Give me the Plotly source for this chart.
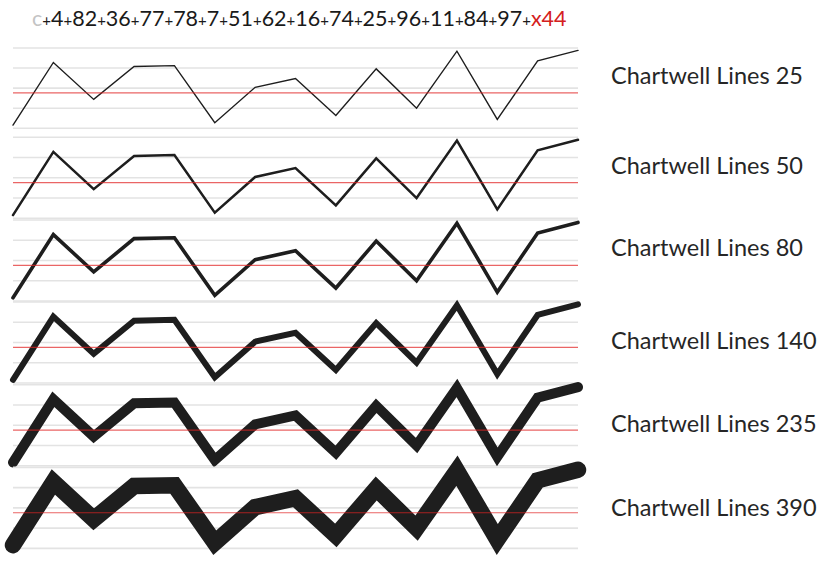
import plotly.graph_objects as go

# values typed into the Chartwell Lines specimen
VALUES   = [4, 82, 36, 77, 78, 7, 51, 62, 16, 74, 25, 96, 11, 84, 97]
BASELINE = 44
WEIGHTS  = [25, 50, 80, 140, 235, 390]
LABELS   = [f"Chartwell Lines {w}" for w in WEIGHTS]
GRID     = [0, 25, 50, 75, 100]

W, H = 825, 561
# pixel rows where 0 and 100 fall in each specimen
PANEL_PX = [(128.3, 48.0), (218.3, 137.3), (301.0, 220.0),
            (383.0, 302.0), (465.7, 384.7), (548.4, 467.4)]
LABEL_PX = [75, 165, 247, 340, 423, 507]
LINE_W   = [1.4, 2.5, 3.6, 6.0, 10.0, 16.5]
X0_PX, X1_PX = 13, 578
INK = "#1e1e1e"
FONT = "Lato, Roboto, sans-serif"

fig = go.Figure()
n = len(VALUES)
xs = list(range(n))
dx = (X1_PX - X0_PX) / (n - 1)
xr = [(0 - X0_PX) / dx, (660 - X0_PX) / dx]

layout = dict(width=W, height=H, margin=dict(l=0, r=0, t=0, b=0),
              paper_bgcolor="white", plot_bgcolor="rgba(0,0,0,0)", showlegend=False)
shapes, annots = [], []

for i, (w, (y0, y100)) in enumerate(zip(WEIGHTS, PANEL_PX)):
    k = "" if i == 0 else str(i + 1)
    s = (y0 - y100) / 100
    lo_px, hi_px = min(H, y0 + 22 * s), max(0, y100 - 22 * s)
    layout[f"xaxis{k}"] = dict(domain=[0, 660 / W], range=xr, visible=False)
    layout[f"yaxis{k}"] = dict(domain=[1 - lo_px / H, 1 - hi_px / H],
                               range=[(y0 - lo_px) / s, (y0 - hi_px) / s],
                               visible=False, anchor=f"x{k}")
    for g in GRID:
        shapes.append(dict(type="line", xref=f"x{k}", yref=f"y{k}", x0=0, x1=n - 1,
                           y0=g, y1=g, layer="below", line=dict(color="#e3e3e3", width=1.6)))
    shapes.append(dict(type="line", xref=f"x{k}", yref=f"y{k}", x0=0, x1=n - 1,
                       y0=BASELINE, y1=BASELINE, layer="above",
                       line=dict(color="rgba(225,35,35,0.7)", width=1.2)))
    fig.add_trace(go.Scatter(x=xs, y=VALUES, mode="lines", xaxis=f"x{k}", yaxis=f"y{k}",
                             line=dict(color=INK, width=LINE_W[i]), hoverinfo="skip"))
    annots.append(dict(text=LABELS[i], xref="paper", yref="paper", x=609 / W,
                       y=1 - LABEL_PX[i] / H, xanchor="left", yanchor="middle", showarrow=False,
                       font=dict(family=FONT, size=23.5, color="#262626", weight=400)))

# header: the typed string with small plus signs
plus = "<span style='font-size:15px'>+</span>"
head = ("<span style='color:#c4c4c4'>c</span>" + plus
        + plus.join(str(v) for v in VALUES) + plus
        + f"<span style='color:#d42020'>x{BASELINE}</span>")
annots.append(dict(text=head, xref="paper", yref="paper", x=30 / W, y=1 - 18 / H,
                   xanchor="left", yanchor="middle", showarrow=False,
                   font=dict(family=FONT, size=21.5, color="#1a1a1a", weight=400)))

layout["shapes"] = shapes
layout["annotations"] = annots
fig.update_layout(**layout)

post = ("document.body.style.margin='0';"
        "document.querySelectorAll('.scatterlayer .js-line')"
        ".forEach(function(p){p.style.strokeLinecap='round';});")
fig.write_html("out.html", post_script=post, config={"displayModeBar": False})
